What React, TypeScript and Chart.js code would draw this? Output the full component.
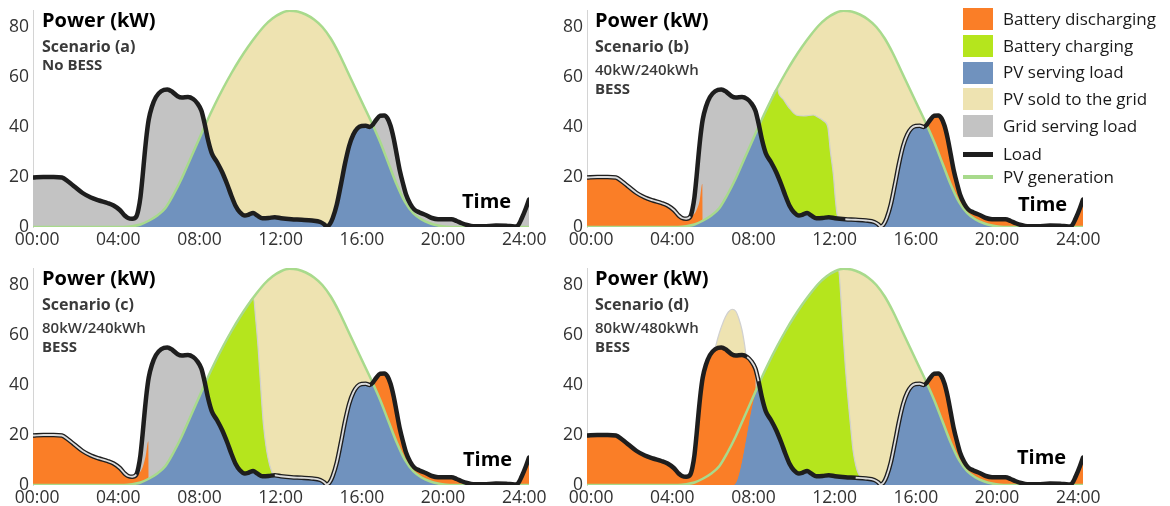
import React, { useEffect, useRef } from 'react';
import { Chart, registerables } from 'chart.js';

Chart.register(...registerables);

type Pt = [number, number];

const FONT = "'Open Sans', 'Noto Sans', 'DejaVu Sans', sans-serif";
Chart.defaults.font.family = FONT;

// ---------- axis labels ----------
const TICK_HOURS = [0, 4, 8, 12, 16, 20, 24];
const TICK_LABELS = ['00:00', '04:00', '08:00', '12:00', '16:00', '20:00', '24:00'];
const Y_TICKS = [0, 20, 40, 60, 80];

// ---------- common series (hour, kW) ----------
const LOAD: Pt[] = [
  [0, 19.8], [0.5, 20], [1.0, 20], [1.4, 19.8], [1.7, 18.2], [2.0, 16.2], [2.4, 13.6], [2.8, 11.8],
  [3.2, 10.6], [3.6, 9.6], [3.9, 8.6], [4.2, 6.8], [4.45, 4.5], [4.6, 3.6], [4.8, 3.3], [5.0, 4.2],
  [5.1, 7], [5.2, 12], [5.3, 20], [5.4, 29], [5.5, 37], [5.6, 43], [5.75, 48], [5.95, 52],
  [6.2, 54.3], [6.5, 55], [6.75, 54], [7.0, 52.3], [7.2, 51.8], [7.5, 52], [7.75, 51.2], [7.95, 49.5],
  [8.15, 46.5], [8.3, 41.5], [8.45, 35.5], [8.65, 29.5], [8.9, 26], [9.15, 22], [9.4, 17], [9.6, 12.5],
  [9.8, 8.5], [10.0, 6], [10.25, 4.6], [10.45, 5], [10.65, 5.6], [10.85, 4.6], [11.1, 3.5], [11.4, 3.6],
  [11.7, 3.9], [12.0, 3.5], [12.5, 3.1], [13.0, 2.9], [13.5, 2.6], [13.9, 2], [14.1, 1], [14.2, 0.2],
  [14.35, 1], [14.5, 3.5], [14.7, 9], [14.9, 17], [15.1, 25.5], [15.3, 32.5], [15.5, 37], [15.7, 39.5],
  [15.9, 40.4], [16.1, 40.5], [16.3, 40], [16.45, 41], [16.6, 42.8], [16.8, 44.5], [17.0, 44.6], [17.15, 43.5],
  [17.3, 40.5], [17.45, 35.5], [17.6, 29], [17.75, 22.5], [17.9, 17.5], [18.05, 13], [18.25, 9.3], [18.45, 7],
  [18.7, 5.8], [19.0, 4.8], [19.3, 3.6], [19.6, 3.1], [20.0, 3.1], [20.25, 3.1], [20.5, 2.4], [20.75, 1.5],
  [21.0, 0.8], [21.3, 0.3], [21.8, 0.3], [22.4, 0.6], [22.9, 0.5], [23.3, 0.2], [23.45, 0.5], [23.65, 3.5],
  [23.85, 7.5], [24, 11],
];

const PV: Pt[] = [
  [0, 0], [4.4, 0], [4.8, 0.3], [5.2, 1], [5.6, 2.5], [6.0, 4.5], [6.4, 7.5], [6.8, 13], [7.2, 19.5],
  [7.6, 27], [8.0, 34.5], [8.4, 42], [8.8, 49], [9.2, 55.5], [9.6, 61.5], [10.0, 67], [10.4, 72],
  [10.8, 76.5], [11.2, 80.5], [11.6, 83.5], [12.0, 85.5], [12.4, 86.5], [12.8, 86.2], [13.2, 85],
  [13.6, 83], [14.0, 80], [14.4, 75.5], [14.8, 69.5], [15.2, 62.5], [15.6, 55.5], [16.0, 48.5],
  [16.4, 41.5], [16.8, 34], [17.2, 25.5], [17.6, 17], [18.0, 10], [18.4, 5.5], [18.8, 3], [19.2, 1.5],
  [19.6, 0.6], [20.0, 0.1], [20.4, 0], [24, 0],
];

// ---------- scenario (b) ----------
const DISCH_RAMP_B: Pt[] = [[5.15, 4.8], [5.3, 6.8], [5.45, 10.5], [5.58, 17.3], [5.6, 0], [9.0, 0]];
const CHARGE_EDGE_B: Pt[] = [
  [9.3, 53], [9.5, 51], [9.75, 48], [10.15, 44.7], [10.5, 44.4], [10.95, 44.8], [11.2, 43.8],
  [11.45, 42.4], [11.65, 40], [11.78, 30], [11.92, 21], [12.02, 11], [12.1, 5], [12.2, 3.4],
];

// ---------- scenario (c) ----------
const DISCH_RAMP_C: Pt[] = [[5.15, 4.8], [5.3, 7], [5.45, 11.5], [5.58, 17.5], [5.6, 0], [9.0, 0]];
const CHARGE_EDGE_C: Pt[] = [
  [10.66, 75], [10.78, 66], [10.9, 54], [11.02, 39], [11.14, 25], [11.3, 14], [11.45, 8], [11.6, 4.2],
];

// ---------- scenario (d) ----------
const DISCH_FLOOR_D: Pt[] = [[0, 0], [7.13, 0], [8.15, 36.5]];
const SELL_BUMP_D: Pt[] = [
  [6.1, 53.8], [6.22, 55.5], [6.32, 58.5], [6.45, 62], [6.7, 67.3], [6.85, 69.3], [7.02, 70.3],
  [7.2, 69.5], [7.35, 66.5], [7.5, 62], [7.62, 56.5], [7.7, 52], [7.8, 50.8],
];
const CHARGE_EDGE_D: Pt[] = [
  [12.18, 85.8], [12.26, 78], [12.34, 67.3], [12.42, 57], [12.5, 47.3], [12.6, 37], [12.71, 27.3],
  [12.8, 19.5], [12.87, 14], [13.0, 8], [13.12, 4.8], [13.25, 3.1],
];

// ---------- helpers ----------
const slice = (a: Pt[], t0: number, t1: number): Pt[] => a.filter(([t]) => t >= t0 - 1e-9 && t <= t1 + 1e-9);
const pts = (a: Pt[]) => a.map(([x, y]) => ({ x, y }));

const BLUE = '#7092BE';
const ORANGE = '#FA7E27';
const GREEN = '#B5E51D';
const BEIGE = '#EEE3B1';
const GRAY = '#C3C3C3';
const PVC = '#A8DA8C';
const LOADC = '#1E1E1E';
const EDGE = '#D0D0D0';
const HI = '#DCDCDC';
const NONE = 'rgba(0,0,0,0)';

interface PanelCfg {
  disch?: Pt[];
  dischFloor?: Pt[];
  charge?: Pt[];
  sell?: Pt[];
  hi: [number, number][];
}

const PANEL_A: PanelCfg = { hi: [] };
const PANEL_B: PanelCfg = {
  disch: [...slice(LOAD, 0, 5.0), ...DISCH_RAMP_B, ...slice(LOAD, 9.1, 24)],
  charge: [...slice(PV, 8.0, 9.2), ...CHARGE_EDGE_B],
  hi: [[0, 5.02], [12.1, 16.4]],
};
const PANEL_C: PanelCfg = {
  disch: [...slice(LOAD, 0, 5.0), ...DISCH_RAMP_C, ...slice(LOAD, 9.1, 24)],
  charge: [...slice(PV, 8.0, 10.6), ...CHARGE_EDGE_C],
  hi: [[0, 5.02], [11.55, 16.35]],
};
const PANEL_D: PanelCfg = {
  disch: [...slice(LOAD, 0, 8.15), [8.18, 0], [16.3, 0], ...slice(LOAD, 16.45, 24)],
  dischFloor: [...DISCH_FLOOR_D, ...slice(PV, 8.4, 24)],
  charge: [...slice(PV, 8.0, 12.0), ...CHARGE_EDGE_D],
  sell: SELL_BUMP_D,
  hi: [[7.74, 8.3], [13.0, 16.37]],
};

function buildDatasets(p: PanelCfg) {
  const base: any = {
    pointRadius: 0, borderWidth: 0, borderColor: NONE, fill: false,
    cubicInterpolationMode: 'monotone',
  };
  const ranges = p.hi;
  const ds: any[] = [];
  ds.push({
    ...base, data: pts(LOAD), borderColor: HI, borderWidth: 1.8,
    segment: {
      borderColor: (c: any) => {
        const a = c.p0.parsed.x, b = c.p1.parsed.x;
        return ranges.some(([s, e]) => a >= s && b <= e) ? HI : NONE;
      },
    },
  });
  ds.push({ ...base, data: pts(LOAD), borderColor: LOADC, borderWidth: 4.5, borderCapStyle: 'round', borderJoinStyle: 'round' });
  ds.push({ ...base, data: pts(PV), borderColor: PVC, borderWidth: 2.5 });
  const LOAD_IDX = 1;
  const PV_IDX = 2;
  if (p.sell) {
    ds.push({ ...base, data: pts(p.sell), borderColor: EDGE, borderWidth: 1.2, backgroundColor: BEIGE,
      fill: { target: LOAD_IDX, above: BEIGE, below: NONE } });
  }
  if (p.charge) {
    ds.push({ ...base, data: pts(p.charge), borderColor: EDGE, borderWidth: 1.2, backgroundColor: GREEN,
      fill: { target: LOAD_IDX, above: GREEN, below: NONE } });
  }
  if (p.disch) {
    if (p.dischFloor) {
      const i = ds.length;
      ds.push({ ...base, data: pts(p.disch), backgroundColor: ORANGE, fill: { target: i + 1, above: ORANGE, below: NONE } });
      ds.push({ ...base, data: pts(p.dischFloor) });
    } else {
      ds.push({ ...base, data: pts(p.disch), backgroundColor: ORANGE, fill: { target: PV_IDX, above: ORANGE, below: NONE } });
    }
  }
  ds.push({ ...base, data: pts(LOAD), backgroundColor: GRAY, fill: { target: PV_IDX, above: GRAY, below: BEIGE } });
  ds.push({ ...base, data: pts(PV), backgroundColor: BLUE, fill: 'origin' });
  return ds;
}

const CW = 560;
const CH = 254;
const Y_MAX = 86.8;

function Panel({ cfg, left, top }: { cfg: PanelCfg; left: number; top: number }) {
  const ref = useRef<HTMLCanvasElement>(null);
  useEffect(() => {
    const chart = new Chart(ref.current as HTMLCanvasElement, {
      type: 'line',
      data: { datasets: buildDatasets(cfg) },
      options: {
        animation: false,
        responsive: false,
        events: [],
        layout: { padding: { left: 0, top: 10, right: CW - 529, bottom: 0 } },
        plugins: {
          legend: { display: false },
          tooltip: { enabled: false },
          filler: { propagate: false, drawTime: 'beforeDatasetsDraw' },
        } as any,
        scales: {
          x: {
            type: 'linear', min: 0, max: 24,
            grid: { display: false, drawTicks: false },
            border: { display: false },
            afterBuildTicks: (s: any) => { s.ticks = TICK_HOURS.map((h) => ({ value: 0.2 + h * 0.982 })); },
            afterFit: (s: any) => { s.height = CH - 227; s.paddingLeft = 0; s.paddingRight = 0; },
            ticks: {
              autoSkip: false, maxRotation: 0, padding: 3, color: '#333', font: { size: 17.5 },
              callback: (_v: any, i: number) => TICK_LABELS[i],
            },
          },
          y: {
            type: 'linear', min: 0, max: Y_MAX,
            grid: { display: false, drawTicks: false },
            border: { display: true, color: '#D4D4D4', width: 1 },
            afterBuildTicks: (s: any) => { s.ticks = Y_TICKS.map((v) => ({ value: v })); },
            afterFit: (s: any) => { s.width = 33; s.paddingTop = 0; s.paddingBottom = 0; },
            ticks: { padding: 4, color: '#333', font: { size: 17.5 } },
          },
        } as any,
      },
    } as any);
    return () => chart.destroy();
  }, []);
  return <canvas ref={ref} width={CW} height={CH} style={{ position: 'absolute', left, top }} />;
}

function T({ x, cy, size, weight = 700, color = '#000', children }: any) {
  return (
    <div style={{
      position: 'absolute', left: x, top: cy - 0.55 * size, fontFamily: FONT, fontSize: size,
      fontWeight: weight, color, lineHeight: 1, whiteSpace: 'nowrap',
    }}>{children}</div>
  );
}

const LEGEND_BOXES = [
  { label: 'Battery discharging', color: ORANGE },
  { label: 'Battery charging', color: GREEN },
  { label: 'PV serving load', color: BLUE },
  { label: 'PV sold to the grid', color: BEIGE },
  { label: 'Grid serving load', color: GRAY },
];
const LEGEND_LINES = [
  { label: 'Load', color: LOADC, h: 5, cy: 154 },
  { label: 'PV generation', color: PVC, h: 4, cy: 177 },
];

function Annot({ x, y0, lines }: { x: number; y0: number; lines: string[] }) {
  const sub = '#3A3A3A';
  return (
    <>
      <T x={x} cy={y0 + 21} size={20}>Power (kW)</T>
      <T x={x} cy={y0 + 46.5} size={16} color={sub}>{lines[0]}</T>
      {lines.length === 2 ? (
        <T x={x} cy={y0 + 65} size={15} color={sub}>{lines[1]}</T>
      ) : (
        <>
          <T x={x} cy={y0 + 70.5} size={15} weight={600} color={sub}>{lines[1]}</T>
          <T x={x} cy={y0 + 89} size={15} color={sub}>{lines[2]}</T>
        </>
      )}
    </>
  );
}

export default function App() {
  return (
    <div style={{ position: 'absolute', left: 0, top: 0, width: 1170, height: 506, overflow: 'hidden', background: '#fff' }}>
      <Panel cfg={PANEL_A} left={0} top={0} />
      <Panel cfg={PANEL_B} left={554} top={0} />
      <Panel cfg={PANEL_C} left={0} top={258} />
      <Panel cfg={PANEL_D} left={554} top={258} />

      <Annot x={42} y0={0} lines={['Scenario (a)', 'No BESS']} />
      <Annot x={595} y0={0} lines={['Scenario (b)', '40kW/240kWh', 'BESS']} />
      <Annot x={42} y0={258} lines={['Scenario (c)', '80kW/240kWh', 'BESS']} />
      <Annot x={595} y0={258} lines={['Scenario (d)', '80kW/480kWh', 'BESS']} />

      <T x={462} cy={202} size={20}>Time</T>
      <T x={1018} cy={205} size={20}>Time</T>
      <T x={463} cy={460} size={20}>Time</T>
      <T x={1017} cy={458} size={20}>Time</T>

      {LEGEND_BOXES.map((e, i) => (
        <React.Fragment key={e.label}>
          <div style={{ position: 'absolute', left: 963, top: 8.3 + i * 26.7, width: 30, height: 22, background: e.color }} />
          <T x={1003} cy={19.3 + i * 26.7} size={17} weight={400} color="#1A1A1A">{e.label}</T>
        </React.Fragment>
      ))}
      {LEGEND_LINES.map((e) => (
        <React.Fragment key={e.label}>
          <div style={{ position: 'absolute', left: 963, top: e.cy - e.h / 2, width: 30, height: e.h, background: e.color }} />
          <T x={1003} cy={e.cy} size={17} weight={400} color="#1A1A1A">{e.label}</T>
        </React.Fragment>
      ))}
    </div>
  );
}
